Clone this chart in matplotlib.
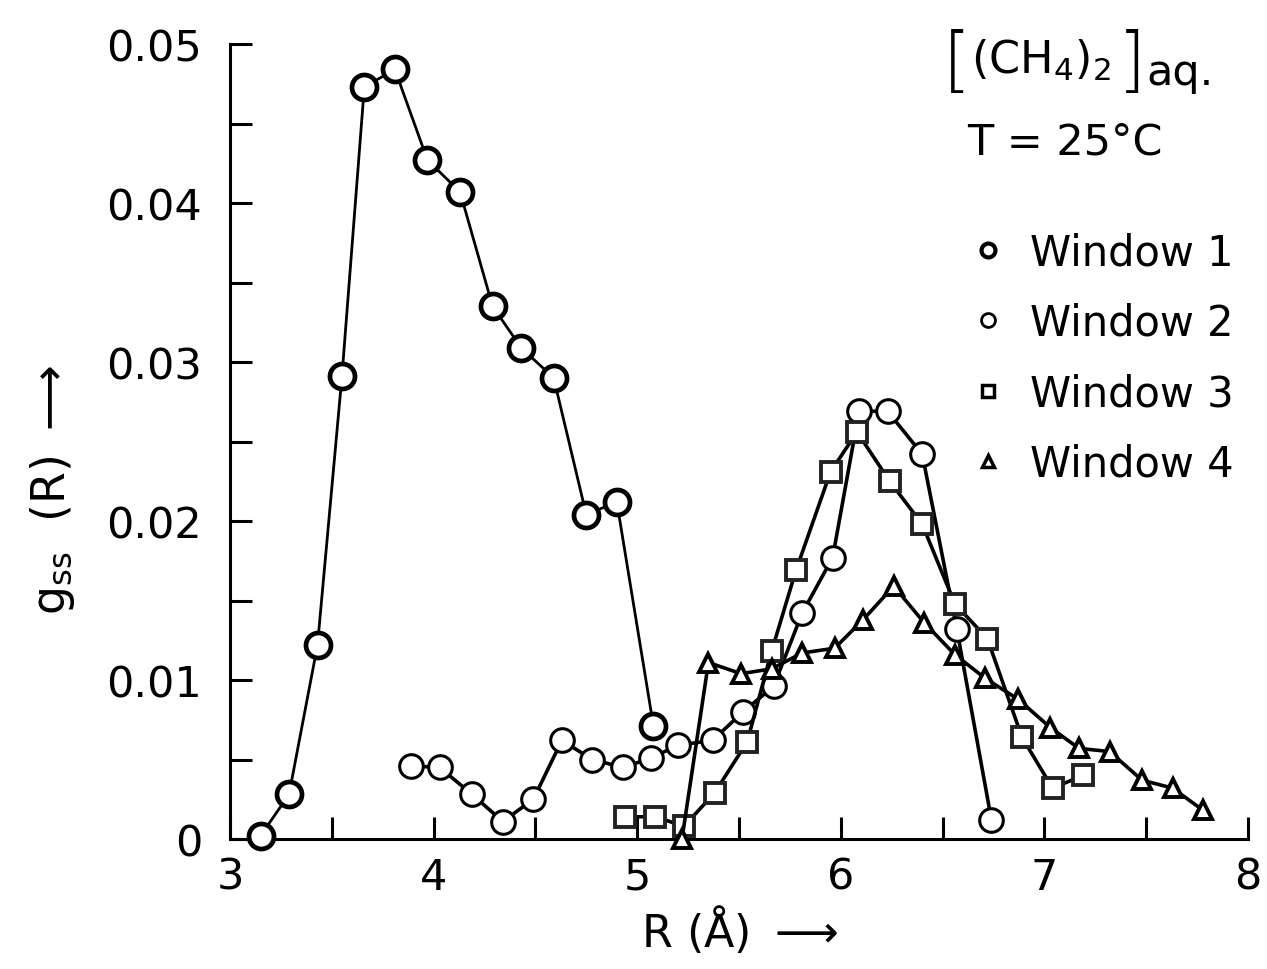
import numpy as np
import matplotlib
matplotlib.use("Agg")
import matplotlib.pyplot as plt
from matplotlib.lines import Line2D
from matplotlib.ticker import MultipleLocator, FuncFormatter

# values
w1_r = [3.15, 3.29, 3.43, 3.55, 3.66, 3.81, 3.97, 4.13, 4.29, 4.43, 4.59, 4.75, 4.90, 5.08]
w1_g = [0.0002, 0.0028, 0.0122, 0.0291, 0.0473, 0.0484, 0.0427, 0.0407, 0.0335, 0.0309,
        0.0290, 0.0204, 0.0212, 0.0071]

w2_r = [3.89, 4.03, 4.19, 4.34, 4.49, 4.63, 4.78, 4.93, 5.07, 5.20, 5.37, 5.52, 5.67,
        5.81, 5.96, 6.09, 6.23, 6.40, 6.57, 6.74]
w2_g = [0.0046, 0.0045, 0.0028, 0.0011, 0.0025, 0.0062, 0.0050, 0.0045, 0.0051, 0.0059,
        0.0062, 0.0080, 0.0096, 0.0142, 0.0177, 0.0269, 0.0269, 0.0242, 0.0132, 0.0012]

w3_r = [4.94, 5.09, 5.23, 5.38, 5.54, 5.66, 5.78, 5.95, 6.08, 6.24, 6.40, 6.56, 6.72,
        6.89, 7.04, 7.19]
w3_g = [0.0014, 0.0014, 0.0008, 0.0029, 0.0061, 0.0118, 0.0169, 0.0231, 0.0256, 0.0225,
        0.0198, 0.0148, 0.0126, 0.0064, 0.0032, 0.0040]

w4_r = [5.22, 5.35, 5.51, 5.66, 5.81, 5.97, 6.11, 6.26, 6.41, 6.56, 6.71, 6.87, 7.03,
        7.17, 7.32, 7.48, 7.63, 7.78]
w4_g = [0.0, 0.0111, 0.0104, 0.0107, 0.0117, 0.0120, 0.0138, 0.0159, 0.0136, 0.0116,
        0.0101, 0.0088, 0.0070, 0.0057, 0.0055, 0.0037, 0.0032, 0.0018]

labels = ['Window 1', 'Window 2', 'Window 3', 'Window 4']

plt.rcParams['font.family'] = ['DejaVu Sans']
plt.rcParams['mathtext.fontset'] = 'dejavusans'

fig = plt.figure(figsize=(12.67, 9.70), dpi=100)
ax = fig.add_axes([0.1815, 0.134, 0.8035, 0.8196])

ax.plot(w1_r, w1_g, '-o', color='black', lw=2, ms=18, mfc='white', mec='black', mew=3.4,
        clip_on=False, zorder=4)
ax.plot(w2_r, w2_g, '-o', color='black', lw=2.6, ms=17, mfc='white', mec='black', mew=2.2,
        clip_on=False, zorder=3)
ax.plot(w3_r, w3_g, '-s', color='black', lw=2.6, ms=14, mfc='white', mec='#222222', mew=2.8,
        clip_on=False, zorder=3)
ax.plot(w4_r, w4_g, '-^', color='black', lw=2.6, ms=13, mfc='white', mec='black', mew=2.8,
        clip_on=False, zorder=3)

ax.set_xlim(3, 8)
ax.set_ylim(0, 0.05)
ax.xaxis.set_major_locator(MultipleLocator(1))
ax.xaxis.set_minor_locator(MultipleLocator(0.5))
ax.yaxis.set_major_locator(MultipleLocator(0.01))
ax.yaxis.set_minor_locator(MultipleLocator(0.005))
ax.yaxis.set_major_formatter(FuncFormatter(lambda v, p: '0' if abs(v) < 1e-9 else '%.2f' % v))
ax.xaxis.set_major_formatter(FuncFormatter(lambda v, p: '%d' % round(v)))

for s in ['top', 'right']:
    ax.spines[s].set_visible(False)
for s in ['left', 'bottom']:
    ax.spines[s].set_linewidth(2.2)

ax.tick_params(axis='both', which='both', direction='in', width=2.2, length=16,
               labelsize=31)
ax.tick_params(axis='y', which='both', pad=20)
ax.tick_params(axis='x', which='both', pad=12)

ax.set_xlabel(r'R ($\mathrm{\AA}$) $\longrightarrow$', fontsize=32)
ax.xaxis.set_label_coords(0.5, -0.08)
ax.set_ylabel(r'g$_{\mathrm{ss}}$  (R) $\longrightarrow$', fontsize=33)
ax.yaxis.set_label_coords(-0.15, 0.44)

handles = [
    Line2D([], [], ls='none', marker='o', ms=10, mfc='white', mec='black', mew=3),
    Line2D([], [], ls='none', marker='o', ms=10, mfc='white', mec='black', mew=2),
    Line2D([], [], ls='none', marker='s', ms=9, mfc='white', mec='black', mew=2.5),
    Line2D([], [], ls='none', marker='^', ms=9, mfc='white', mec='black', mew=2.5),
]
ax.legend(handles, labels, loc='upper left', bbox_to_anchor=(0.712, 0.785), frameon=False,
          fontsize=30, handlelength=0.8, handletextpad=0.6, labelspacing=0.68,
          borderaxespad=0)

# composition label with tall brackets
fig.text(0.744, 0.935, '[', fontsize=52, va='center', fontweight='light')
fig.text(0.766, 0.938, r'(CH$_4$)$_2$', fontsize=32, va='center')
fig.text(0.882, 0.935, ']', fontsize=52, va='center', fontweight='light')
fig.text(0.905, 0.925, 'aq.', fontsize=31, va='center')
fig.text(0.763, 0.853, 'T = 25°C', fontsize=31, va='center')

fig.savefig('out.png', dpi=100)
